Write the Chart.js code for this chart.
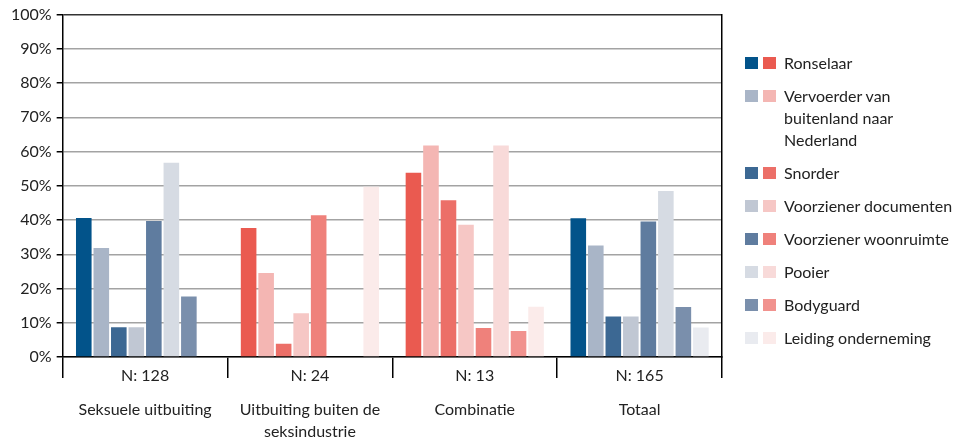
<!DOCTYPE html>
<html>
<head>
<meta charset="utf-8">
<script src="https://cdn.jsdelivr.net/npm/chart.js@4.4.1/dist/chart.umd.min.js"></script>
<style>
  html, body { margin: 0; padding: 0; background: #fff; }
  #wrap { position: relative; width: 954px; height: 437px; overflow: hidden; }
  #legend { position: absolute; left: 745px; top: 52px; font-family: Lato, "Open Sans", sans-serif; font-size: 16px; color: #222; }
  .item { display: flex; align-items: flex-start; margin-bottom: 11px; line-height: 22px; }
  .sw { width: 13px; height: 12px; margin-top: 5px; margin-right: 5px; flex: none; }
  .txt { margin-left: 3px; white-space: pre-line; }
</style>
</head>
<body>
<div id="wrap">
  <canvas id="main" width="954" height="437"></canvas>
  <div id="legend"></div>
</div>
<script>
// groepen
const nLabels = ["N: 128", "N: 24", "N: 13", "N: 165"];
const groups = ["Seksuele uitbuiting", ["Uitbuiting buiten de", "seksindustrie"], "Combinatie", "Totaal"];

// rollen (legenda)
const roles = ["Ronselaar", "Vervoerder van\nbuitenland naar\nNederland", "Snorder", "Voorziener documenten",
               "Voorziener woonruimte", "Pooier", "Bodyguard", "Leiding onderneming"];

// percentages per rol, volgorde: seksueel, buiten seksindustrie, combinatie, totaal
const ronselaar   = [40.6, 37.7, 53.8, 40.5];
const vervoerder  = [31.8, 24.5, 61.8, 32.6];
const snorder     = [8.7, 3.9, 45.8, 11.8];
const documenten  = [8.7, 12.8, 38.6, 11.8];
const woonruimte  = [39.7, 41.4, 8.5, 39.6];
const pooier      = [56.7, 0, 61.8, 48.5];
const bodyguard   = [17.7, 0, 7.6, 14.6];
const leiding     = [0, 49.7, 14.7, 8.6];

const blues = ["#02538a", "#a9b5c7", "#3c6893", "#c0c7d3", "#5f7c9f", "#d6dbe3", "#7a8fac", "#e9ebf0"];
const reds  = ["#ea5a50", "#f4b6b3", "#ec6f68", "#f6c7c5", "#ef817b", "#f8dad9", "#f1928e", "#fbebea"];
// groep 1 en 4 blauw, groep 2 en 3 rood
const groupTone = ["blue", "red", "red", "blue"];

const values = [ronselaar, vervoerder, snorder, documenten, woonruimte, pooier, bodyguard, leiding];

const datasets = values.map((v, i) => ({
    label: roles[i],
    data: v,
    backgroundColor: groupTone.map(t => t == "blue" ? blues[i] : reds[i]),
    borderWidth: 0,
    barPercentage: 0.89,
    categoryPercentage: 0.85,
    xAxisID: 'x',
    yAxisID: 'y'
}));

const font = { family: "Lato, 'Open Sans', sans-serif", size: 16 };

new Chart(document.getElementById('main'), {
    type: 'bar',
    data: { labels: nLabels, datasets: datasets },
    options: {
        responsive: false,
        animation: false,
        layout: { padding: { left: 6, right: 232, top: 11, bottom: 0 } },
        plugins: { legend: { display: false }, tooltip: { enabled: false } },
        scales: {
            x: {
                position: 'bottom',
                weight: 0,
                grid: { drawOnChartArea: false, color: '#000', lineWidth: 1.5, tickLength: 21, offset: true },
                border: { color: '#000', width: 1.5 },
                ticks: { color: '#222', font: font, padding: -12 },
                afterFit: s => { s.height = 30; }
            },
            x2: {
                type: 'category',
                position: 'bottom',
                weight: 1,
                labels: groups,
                grid: { display: false },
                border: { display: false },
                ticks: { color: '#222', font: { ...font, lineHeight: 1.375 }, padding: 4 },
                afterFit: s => { s.height = 50; }
            },
            y: {
                min: 0, max: 100,
                ticks: { stepSize: 10, color: '#222', font: font, padding: 5, callback: v => v + '%' },
                grid: {
                    color: c => c.tick && c.tick.value == 100 ? '#333' : '#a3a3a3',
                    tickColor: '#000',
                    lineWidth: 1.5,
                    tickLength: 6
                },
                border: { color: '#000', width: 1.5 }
            },
            yR: {
                position: 'right',
                min: 0, max: 100,
                ticks: { display: false },
                grid: { drawOnChartArea: false, drawTicks: false },
                border: { color: '#000', width: 1.5 }
            }
        }
    }
});

// legenda met twee kleurvakjes per rol
const legend = document.getElementById('legend');
roles.forEach((r, i) => {
    const item = document.createElement('div');
    item.className = 'item';
    item.innerHTML = `<div class="sw" style="background:${blues[i]}"></div><div class="sw" style="background:${reds[i]}"></div><div class="txt">${r}</div>`;
    legend.appendChild(item);
});
</script>
</body>
</html>
